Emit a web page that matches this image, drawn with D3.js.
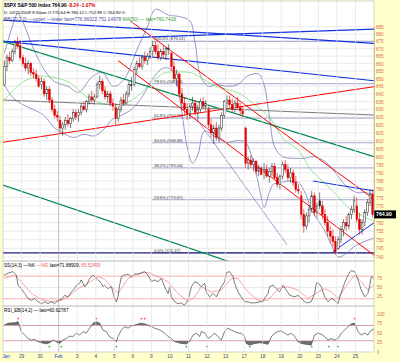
<!DOCTYPE html>
<html><head><meta charset="utf-8">
<script src="https://cdn.jsdelivr.net/npm/d3@7"></script>
<style>body{margin:0;background:#fff}text{font-family:"Liberation Sans",Arial,sans-serif}</style>
</head><body><svg id="c" width="400" height="362"></svg>
<script>
// ---------- DATA ----------
const dayLabels = ["Jan","29","30","Feb","3","4","5","6","9","10","11","12","13","17","18","19","20","23","24","25"];
const barsPerDay = 7;
// hourly bars [open, high, low, close]
const ohlc = [
[846,862,845,858],[858,866,855,864],[864,868,860,862],[862,870,861,868],[868,876,866,874],[874,878,870,872],[872,876,862,864],
[864,866,858,860],[860,864,855,857],[857,862,853,860],[860,861,852,854],[854,857,850,853],[853,856,848,850],[850,852,844,845],
[846,851,843,848],[848,850,838,840],[840,845,836,843],[843,845,834,836],[836,838,828,830],[830,833,824,826],[826,829,822,825],
[823,826,815,818],[818,822,813,820],[820,825,817,823],[823,827,819,821],[821,825,818,824],[824,830,822,828],[828,830,823,825],
[826,830,822,828],[828,834,826,832],[832,835,829,830],[830,836,828,835],[835,840,833,838],[838,842,834,836],[836,840,833,838],
[838,848,837,846],[846,852,843,848],[848,850,840,842],[842,845,836,838],[838,842,834,840],[840,842,832,834],[834,837,829,832],
[831,834,820,824],[824,832,822,830],[830,838,828,836],[836,840,832,834],[834,842,833,840],[840,848,838,846],[846,851,842,846],
[846,858,845,856],[856,862,853,860],[860,864,857,858],[858,866,856,864],[864,868,860,862],[862,867,859,865],[865,871,863,868],
[868,875,865,872],[872,875,866,868],[868,873,862,864],[864,870,862,868],[868,872,863,866],[866,871,862,870],[870,873,866,870],
[867,868,855,858],[858,862,848,850],[850,856,845,853],[853,854,838,840],[840,844,830,834],[834,838,826,830],[830,834,823,827],
[827,834,824,832],[832,838,829,834],[834,836,826,828],[828,833,822,830],[830,837,828,835],[835,838,830,832],[832,836,829,834],
[830,832,818,820],[820,824,812,815],[815,820,808,818],[818,822,810,812],[812,820,809,818],[818,828,816,826],[826,836,824,835],
[834,839,830,836],[836,839,831,833],[833,837,828,830],[830,836,828,834],[834,838,830,831],[831,834,826,829],[829,832,825,827],
[818,819,793,796],[796,800,792,798],[798,801,793,795],[795,799,791,797],[797,798,789,791],[791,795,788,793],[793,794,789,789],
[791,796,786,792],[792,795,787,788],[788,793,784,791],[791,796,788,794],[794,796,786,787],[787,790,781,783],[783,789,780,788],
[788,797,786,795],[795,798,790,792],[792,795,785,787],[787,793,784,790],[790,792,782,784],[784,788,778,780],[780,783,777,779],
[776,779,762,765],[765,768,754,758],[758,766,756,764],[764,770,760,768],[768,779,766,776],[776,778,764,766],[766,772,763,770],
[773,778,768,770],[770,773,762,765],[765,768,758,760],[760,764,752,755],[755,758,748,752],[752,756,746,749],[749,752,742,743],
[745,752,744,750],[750,758,748,756],[756,762,752,760],[760,764,755,758],[758,766,756,765],[765,770,762,768],[768,776,766,773],
[770,775,760,762],[762,766,753,756],[756,762,753,760],[760,768,758,766],[766,774,764,772],[772,780,770,777],[777,780,763,765]
];
// Bollinger bands and MA(50): [bar, price]
const bbUpper = [[0,867],[3,885],[5,894],[7,888],[11,870],[15,856],[19,848],[24,845],[28,841],[33,851],[37,854],[41,845],[45,849],[50,869],[54,885],[57,897],[62,893],[66,892],[70,889],[72,874],[74,852],[77,845],[80,846],[84,845],[88,846],[92,852],[96,853],[98,846],[100,826],[102,806],[105,800],[109,799],[113,799],[117,800],[121,797],[125,790],[129,782],[133,778],[136,778],[139.5,777]];
const bbLower = [[0,846],[3,838],[7,833],[12,829],[15,826],[19,818],[22,815],[26,812],[30,814],[34,813],[38,818],[41,824],[44,826],[48,830],[52,838],[56,850],[60,857],[63,856],[65,848],[67,828],[69,806],[71,796],[73,801],[75.5,816],[80,812],[84,809],[88,810],[91,809],[93,802],[95,790],[97,775],[98,769],[100,778],[101.5,783],[104,784],[108,785],[111,784],[114,776],[116,767],[119,760],[121,755],[123.4,747],[126,740],[129,742],[132,746],[136,749],[139.5,751]];
const ma50 = [[0,836],[6.4,847.1],[11.3,851.1],[15.1,851.7],[24.2,847.8],[31.7,837.3],[36.6,834.1],[40.4,832.8],[46.8,834.7],[51.7,840.6],[56.6,849.1],[60.4,853.8],[64.9,854.4],[70.6,853.8],[75.5,849.1],[80.8,844.5],[88.3,840.6],[93.2,834.7],[97,829.6],[100.8,823.1],[105.7,810.4],[110.9,804.2],[115.8,791.7],[120.8,783.8],[126,775.4],[130.9,767.5],[140,760.7]];
// trend lines [[bar, price],[bar, price]]
const trendLines = [
 {c:"#1030E0", w:1.2, p:[[0,889.5],[140,873.6]]},
 {c:"#1030E0", w:1.2, p:[[0,874.5],[140,883.4]]},
 {c:"#1030E0", w:1.2, p:[[0,875.2],[140,848.6]]},
 {c:"#008850", w:1.2, p:[[0,875],[140,800]]},
 {c:"#008850", w:1.2, p:[[0,782.5],[88,736]]},
 {c:"#FF0000", w:1.0, p:[[0,809],[140,844.7]]},
 {c:"#FF0000", w:1.0, p:[[48,889],[140,774]]},
 {c:"#FF0000", w:1.0, p:[[43.4,862],[140,741]]},
 {c:"#7A7A7A", w:1.0, p:[[0,836],[140,826.3]]},
 {c:"#6060B0", w:0.6, p:[[74.3,821],[107.2,747]]},
 {c:"#1030E0", w:1.0, p:[[117,785],[140,779]]},
 {c:"#1030E0", w:1.0, p:[[124.5,743],[140,760]]}
];
const fibLevels = [["100.0% (875.01)",875.01],["78.6% (846.63)",846.63],["61.8% (824.34)",824.34],["50.0% (808.69)",808.69],["38.2% (793.04)",793.04],["23.6% (773.67)",773.67],["0.0% (742.37)",742.37]];
const priceTicks = d3.range(740, 886, 5);
const lastPrice = 764.90;
const stochTicks = [25,50,75];
const rsiTicks = [0,25,50,75,100];
// stochastic %K, %D and RSI: [bar, value]
const stochK = [[0,83],[1.4,88],[3.3,92],[4.5,83],[5.2,56],[6.4,47],[7.7,34],[8.9,21],[10.2,16],[11.4,21],[12.7,12],[14,7],[15.2,12],[16.5,7],[17.7,12],[19,7],[20.3,16],[21.5,18],[22.8,29],[24,25],[25.3,38],[26.5,47],[27.2,56],[28.4,61],[29,70],[29.7,61],[30.3,52],[31,56],[32.2,74],[33.5,83],[34.1,79],[35.4,70],[36.6,61],[37.2,52],[37.8,56],[39.1,47],[40.4,52],[41.6,21],[42.3,12],[42.9,25],[43.5,56],[44.2,79],[45.4,83],[46.7,85],[47.9,79],[49.2,86],[50.5,86],[51.7,89],[53,92],[54.2,83],[55.5,65],[56.7,70],[58,65],[59.2,74],[60.5,52],[61.8,34],[62.4,52],[63,25],[64.3,12],[65.5,7],[66.8,9],[68,3],[69.3,16],[70.6,52],[71.8,65],[73.1,61],[74.3,52],[75.6,61],[76.2,38],[77.5,25],[78.8,34],[80,25],[81.3,43],[81.9,52],[83.1,65],[83.8,89],[85,92],[86.3,79],[86.9,61],[88.2,38],[89.4,25],[90.7,12],[92,12],[93.2,9],[94.5,9],[96.4,12],[97.6,12],[98.2,21],[99.5,34],[100.1,52],[101.4,56],[102.6,47],[103.9,38],[105.2,56],[106.4,43],[107.7,29],[109.6,25],[110.8,29],[112.1,21],[113.3,12],[114.6,9],[115.8,12],[117.1,34],[117.7,61],[118.4,63],[119.6,52],[120.9,25],[122.2,12],[123.4,21],[124.7,16],[125.9,7],[127.2,38],[128.4,61],[129.7,83],[130.9,95],[132.2,92],[133.5,70],[134.7,43],[136,25],[137.2,34],[137.9,56],[138.5,79],[139.8,72]];
const stochD = [[0,74],[3.9,83],[6.4,65],[10.2,34],[14,18],[17.7,12],[21.5,16],[24,25],[27.8,47],[31.6,61],[35.4,79],[37.8,72],[40.4,52],[42.9,34],[44.2,47],[46.7,74],[51.7,88],[54.2,90],[58,79],[61.8,65],[65.5,34],[69.3,12],[71.8,25],[74.3,52],[78.1,38],[81.9,43],[85.7,74],[88.2,74],[92,38],[95.7,16],[99.5,16],[103.3,47],[107,52],[110.8,43],[114.6,21],[118.4,38],[120.9,47],[123.4,38],[125.9,21],[129.7,61],[132.2,83],[134.7,65],[137.2,43],[139.8,60]];
const rsi = [[0,71],[1.4,76],[3.9,77],[5.2,80],[5.8,67],[6.4,54],[7.7,45],[8.9,36],[10.2,32],[11.4,34],[12.7,28],[14,25],[15.8,22],[17.1,25],[18.4,32],[19.6,28],[20.9,23],[22.1,32],[23.4,36],[24.6,42],[25.8,41],[27.2,50],[28.4,45],[29.7,54],[30.9,50],[32.2,63],[33.5,76],[34.7,80],[36,76],[37.2,58],[38.5,54],[39.7,41],[41,36],[42.3,28],[42.9,41],[44.2,58],[45.4,67],[46.7,63],[47.9,69],[49.2,71],[50.5,74],[51.7,76],[53,74],[54.2,71],[55.5,67],[56.7,63],[58,60],[59.2,56],[60.5,50],[61.8,41],[63,36],[64.3,28],[66.8,23],[68.7,22],[69.9,28],[71.2,45],[72.5,50],[73.7,41],[74.3,54],[75.6,51],[76.9,36],[78.1,42],[79.4,50],[80.6,41],[81.9,32],[83.1,54],[84.4,63],[85.7,58],[86.9,54],[88.2,50],[89.4,50],[90.7,41],[91.3,23],[92.6,19],[94.5,23],[96.4,25],[98.2,23],[99.5,21],[100.8,41],[102,50],[103.3,54],[104.5,56],[105.8,50],[107,45],[108.3,50],[109.6,41],[110.8,28],[112.1,23],[113.9,21],[115.8,19],[117.1,45],[118.4,50],[119.6,47],[120.9,41],[122.2,32],[123.4,36],[124.7,32],[125.9,36],[127.2,50],[128.4,58],[129.7,67],[130.9,74],[132.2,76],[133.5,54],[134.7,45],[136,50],[137.2,45],[137.9,54],[139.1,60],[139.8,61]];
const rsiHighMarks = [5.2,34.7,51.7,53,132.2];
const rsiLowMarks = [17,21.5,42.3,68.7,76.5,92.6,116,122.5,125.9];

// ---------- LAYOUT ----------
const svg = d3.select("#c");
const W=400, H=362, L=3, R=374;
const P = {main:[1,261], st:[261,306], rs:[306,352]};
svg.append("rect").attr("width",W).attr("height",H).attr("fill","#FFFFCC");
const nBars = ohlc.length;
const x = d3.scaleLinear().domain([0,nBars]).range([L,R]);
const y = d3.scaleLog().domain([740,885]).range([257,26.7]);
const ySt = d3.scaleLinear().domain([0,100]).range([306.3,268.6]);
const yRs = d3.scaleLinear().domain([0,100]).range([352.3,314]);
const defs = svg.append("defs");
Object.entries(P).forEach(([k,[a,b]])=>{
  svg.append("rect").attr("x",L).attr("y",a).attr("width",R-L).attr("height",b-a).attr("fill","#fff");
  defs.append("clipPath").attr("id","clip-"+k).append("rect").attr("x",L).attr("y",a).attr("width",R-L).attr("height",b-a);
});
const gMain = svg.append("g").attr("clip-path","url(#clip-main)");
const gSt = svg.append("g").attr("clip-path","url(#clip-st)");
const gRs = svg.append("g").attr("clip-path","url(#clip-rs)");

// vertical grid
const dayStarts = dayLabels.map((d,i)=>i*barsPerDay);
svg.append("g").selectAll("line").data(dayStarts.slice(1)).join("line")
  .attr("x1",d=>x(d)).attr("x2",d=>x(d)).attr("y1",P.main[0]).attr("y2",P.rs[1])
  .attr("stroke",(d,i)=>dayLabels[i+1]==="Feb"?"#A8A8A8":"#E2E2E2").attr("stroke-width",0.7);
// horizontal grid main
gMain.selectAll("line.h").data(priceTicks).join("line").attr("class","h")
  .attr("x1",L).attr("x2",R).attr("y1",d=>y(d)).attr("y2",d=>y(d)).attr("stroke","#E2E2E2").attr("stroke-width",0.7);

// fib levels
gMain.selectAll("line.fib").data(fibLevels).join("line").attr("class","fib")
  .attr("x1",x(56)).attr("x2",R).attr("y1",d=>y(d[1])).attr("y2",d=>y(d[1])).attr("stroke","#8C8CC0").attr("stroke-width",0.8);
gMain.selectAll("text.fib").data(fibLevels).join("text").attr("class","fib")
  .attr("x",x(57)).attr("y",d=>y(d[1])-1).attr("font-size",4.2).attr("fill","#333").text(d=>d[0]);

// horizontal support
gMain.append("line").attr("x1",L).attr("x2",R).attr("y1",y(742.37)).attr("y2",y(742.37)).attr("stroke","#202080").attr("stroke-width",1.3);

// BB and MA
const line = d3.line().x(d=>x(d[0]+0.5)).y(d=>y(d[1])).curve(d3.curveCatmullRom);
gMain.append("path").attr("d",line(bbUpper)).attr("fill","none").attr("stroke","#6A6AB0").attr("stroke-width",0.7);
gMain.append("path").attr("d",line(bbLower)).attr("fill","none").attr("stroke","#6A6AB0").attr("stroke-width",0.7);
gMain.append("path").attr("d",line(ma50)).attr("fill","none").attr("stroke","#66DD66").attr("stroke-width",0.7);

// trend lines
const tl = d3.line().x(d=>x(d[0])).y(d=>y(d[1]));
gMain.selectAll("path.tl").data(trendLines).join("path").attr("class","tl")
  .attr("d",d=>tl(d.p)).attr("stroke",d=>d.c).attr("stroke-width",d=>d.w).attr("fill","none");

// candles
const cg = gMain.selectAll("g.cd").data(ohlc).join("g").attr("class","cd");
const col = (d,i)=> (i>0 && d[3]<ohlc[i-1][3]) ? "#E00000" : "#222";
cg.append("line").attr("x1",(d,i)=>x(i+0.5)).attr("x2",(d,i)=>x(i+0.5))
  .attr("y1",d=>y(d[1])).attr("y2",d=>y(d[2])).attr("stroke",col).attr("stroke-width",0.6);
cg.append("rect").attr("x",(d,i)=>x(i+0.5)-0.9).attr("width",1.8)
  .attr("y",d=>y(Math.max(d[0],d[3]))).attr("height",d=>Math.max(0.6,Math.abs(y(d[0])-y(d[3]))))
  .attr("fill",(d,i)=>d[3]>d[0]?"#fff":col(d,i)).attr("stroke",col).attr("stroke-width",0.5);

// right axis
const ax = svg.append("g").attr("transform",`translate(${R},0)`)
  .call(d3.axisRight(y).tickValues(priceTicks.filter(v=>Math.abs(y(v)-y(lastPrice))>4)).tickFormat(d3.format("d")).tickSize(0).tickPadding(2));
ax.select(".domain").attr("stroke","#C8C8A0");
ax.selectAll("text").attr("font-size",4.6).attr("fill","#E06A50").attr("font-family","Liberation Sans, Arial");
svg.append("rect").attr("x",R).attr("y",y(lastPrice)-4).attr("width",22).attr("height",8).attr("fill","#000");
svg.append("text").attr("x",R+2).attr("y",y(lastPrice)+2).attr("font-size",5.2).attr("font-weight","bold").attr("fill","#fff").text(lastPrice.toFixed(2));

// header
const hdr = svg.append("g").attr("font-size",4.8);
const t1 = hdr.append("text").attr("x",4).attr("y",7);
t1.append("tspan").attr("font-weight","bold").text("$SPX S&P 500 Index  764.90 ");
t1.append("tspan").attr("fill","#E00000").attr("font-weight","bold").text(" -8.24  -1.07%");
hdr.append("text").attr("x",4).attr("y",14).attr("font-size",4.3).text("D: 02/25/2009  8:30am  O:770.64 H:780.12 L:752.89 C:764.90 V:");
const t3 = hdr.append("text").attr("x",4).attr("y",21);
t3.append("tspan").attr("fill","#5050A0").text("BB(20,2.0) \u2014upper \u2014lower last=776.96022,751.14978 ");
t3.append("tspan").attr("fill","#30A030").text("MA(50) \u2014 last=760.7418");

// ---------- Stochastics ----------
const stLine = d3.line().x(d=>x(d[0]+0.5)).y(d=>ySt(d[1]));
[20,50,80].forEach(v=>gSt.append("line").attr("x1",L).attr("x2",R).attr("y1",ySt(v)).attr("y2",ySt(v))
  .attr("stroke",v===50?"#E4E4E4":"#F2A0A0").attr("stroke-width",0.8));
gSt.append("path").attr("d",stLine(stochD)).attr("fill","none").attr("stroke","#F08080").attr("stroke-width",0.7);
gSt.append("path").attr("d",stLine(stochK)).attr("fill","none").attr("stroke","#444").attr("stroke-width",0.7);
const st = svg.append("text").attr("x",4).attr("y",267).attr("font-size",4.6);
st.append("tspan").text("SS(14,3) \u2014%K ");
st.append("tspan").attr("fill","#F06060").text("\u2014%D ");
st.append("tspan").text("last=71.88909, ");
st.append("tspan").attr("fill","#F06060").text("65.52459");
stochTicks.forEach(v=>svg.append("text").attr("x",R+3).attr("y",ySt(v)+1.6).attr("font-size",4.6).attr("fill","#E06A50").text(v));

// ---------- RSI ----------
const rsLine = d3.line().x(d=>x(d[0]+0.5)).y(d=>yRs(d[1]));
[30,70].forEach(v=>gRs.append("line").attr("x1",L).attr("x2",R).attr("y1",yRs(v)).attr("y2",yRs(v)).attr("stroke","#F2A0A0").attr("stroke-width",0.8));
defs.append("clipPath").attr("id","rsHi").append("rect").attr("x",L).attr("y",P.rs[0]).attr("width",R-L).attr("height",yRs(70)-P.rs[0]);
defs.append("clipPath").attr("id","rsLo").append("rect").attr("x",L).attr("y",yRs(30)).attr("width",R-L).attr("height",P.rs[1]-yRs(30));
gRs.append("path").attr("clip-path","url(#rsHi)").attr("fill","#707070")
  .attr("d",d3.area().x(d=>x(d[0]+0.5)).y0(yRs(70)).y1(d=>yRs(d[1]))(rsi));
gRs.append("path").attr("clip-path","url(#rsLo)").attr("fill","#707070")
  .attr("d",d3.area().x(d=>x(d[0]+0.5)).y0(yRs(30)).y1(d=>yRs(d[1]))(rsi));
gRs.append("path").attr("d",rsLine(rsi)).attr("fill","none").attr("stroke","#444").attr("stroke-width",0.7);
gRs.selectAll("circle.hi").data(rsiHighMarks).join("circle").attr("cx",d=>x(d+0.5)).attr("cy",yRs(88)).attr("r",0.9).attr("fill","#FF4040");
gRs.selectAll("circle.lo").data(rsiLowMarks).join("circle").attr("cx",d=>x(d+0.5)).attr("cy",yRs(15)).attr("r",0.9).attr("fill","#20C020");
svg.append("text").attr("x",4).attr("y",312).attr("font-size",4.6).text("RSI_EB(14,2) \u2014 last=60.62787");
rsiTicks.forEach(v=>svg.append("text").attr("x",R+3).attr("y",yRs(v)+1.6).attr("font-size",4.6).attr("fill","#E06A50").text(v));

// panel borders
Object.values(P).forEach(([a,b])=>svg.append("rect").attr("x",L).attr("y",a).attr("width",R-L).attr("height",b-a).attr("fill","none").attr("stroke","#B8B8B8").attr("stroke-width",0.6));

// x labels
svg.selectAll("text.xl").data(dayLabels).join("text").attr("class","xl")
  .attr("x",(d,i)=>i===0?x(0)+3:x(i*barsPerDay)).attr("y",358).attr("text-anchor","middle").attr("font-size",4.8)
  .attr("fill",d=>isNaN(+d)?"#2040C0":"#404070").text(d=>d);
</script></body></html>
